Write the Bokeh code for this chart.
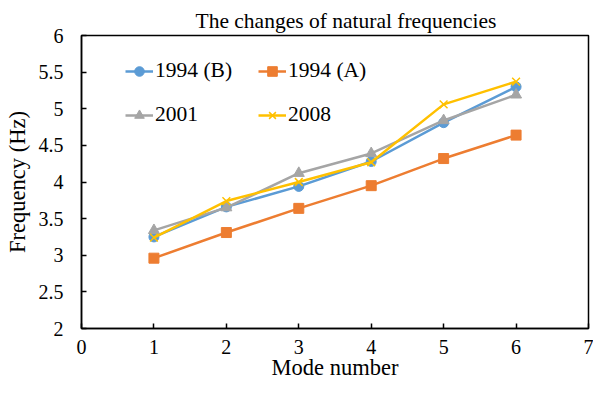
from bokeh.plotting import figure
from bokeh.models import FixedTicker, Range1d, Legend
from bokeh.embed import file_html
from bokeh.resources import INLINE

modes = [1, 2, 3, 4, 5, 6]
f_1994B = [3.25, 3.66, 3.94, 4.28, 4.81, 5.30]
f_1994A = [2.96, 3.31, 3.64, 3.95, 4.32, 4.64]
f_2001 = [3.34, 3.65, 4.12, 4.39, 4.84, 5.19]
f_2008 = [3.24, 3.74, 4.00, 4.27, 5.06, 5.37]

x_ticks = [0, 1, 2, 3, 4, 5, 6, 7]
y_ticks = [2, 2.5, 3, 3.5, 4, 4.5, 5, 5.5, 6]
y_tick_labels = ["2", "2.5", "3", "3.5", "4", "4.5", "5", "5.5", "6"]

FONT = "Liberation Serif"
W, H = 593, 384
FL, FT, FR, FB = 81, 35, 5, 56

p = figure(width=W, height=H, output_backend="svg", toolbar_location=None,
           x_range=Range1d(0, 7), y_range=Range1d(2, 6),
           title="The changes of natural frequencies",
           min_border_left=FL, min_border_top=FT, min_border_right=FR, min_border_bottom=FB)

p.title.text_font = FONT
p.title.text_font_size = "21.5px"
p.title.text_font_style = "normal"
p.title.align = "left"
p.title.text_color = "#000000"
p.title.standoff = 6
p.title.offset = 114

p.xgrid.visible = False
p.ygrid.visible = False
p.outline_line_color = "#000000"
p.outline_line_width = 1.5

for ax in (p.xaxis[0], p.yaxis[0]):
    ax.axis_line_color = "#000000"
    ax.axis_line_width = 1.5
    ax.major_tick_line_color = "#000000"
    ax.major_tick_line_width = 1.5
    ax.major_tick_in = 5
    ax.major_tick_out = 0
    ax.minor_tick_line_color = None
    ax.major_label_text_font = FONT
    ax.major_label_text_font_size = "20px"
    ax.major_label_text_color = "#000000"
    ax.axis_label_text_font = FONT
    ax.axis_label_text_font_size = "22.5px"
    ax.axis_label_text_font_style = "normal"
    ax.axis_label_text_color = "#000000"

p.xaxis.ticker = FixedTicker(ticks=x_ticks)
p.yaxis.ticker = FixedTicker(ticks=y_ticks)
p.yaxis.major_label_overrides = {t: l for t, l in zip(y_ticks, y_tick_labels)}
p.xaxis.axis_label = "Mode number"
p.yaxis.axis_label = "Frequency (Hz)"
p.xaxis.major_label_standoff = 11
p.yaxis.major_label_standoff = 18
p.xaxis.axis_label_standoff = -2
p.yaxis.axis_label_standoff = 6

LW = 2.5
series = [
    ("1994 (B)", f_1994B, "#5B9BD5", "circle", 10),
    ("1994 (A)", f_1994A, "#ED7D31", "square", 10),
    ("2001", f_2001, "#A5A5A5", "triangle", 11),
    ("2008", f_2008, "#FFC000", "x", 11),
]
rend = {}
for name, vals, col, mk, sz in series:
    r1 = p.line(modes, vals, line_color=col, line_width=LW)
    if mk == "x":
        r2 = p.scatter(modes, vals, marker=mk, size=sz, line_color=col, line_width=1.5)
    else:
        r2 = p.scatter(modes, vals, marker=mk, size=sz, fill_color=col, line_color=col)
    rend[name] = [r1, r2]

legend_order = ["1994 (B)", "2001", "1994 (A)", "2008"]
items = [(n, rend[n]) for n in legend_order]

frame_h = H - FT - FB
gh, sp = 24, 19
leg_h = 2 * gh + sp
legend = Legend(items=items, ncols=2, location=(44, frame_h - 25 - leg_h),
                padding=0, margin=0, spacing=sp,
                glyph_width=28, glyph_height=gh, label_height=gh, label_width=84,
                label_standoff=2, border_line_color=None, background_fill_alpha=0,
                label_text_font=FONT, label_text_font_size="21.5px", label_text_color="#000000")
p.add_layout(legend, "center")

open("out.html", "w").write(file_html(p, INLINE))
